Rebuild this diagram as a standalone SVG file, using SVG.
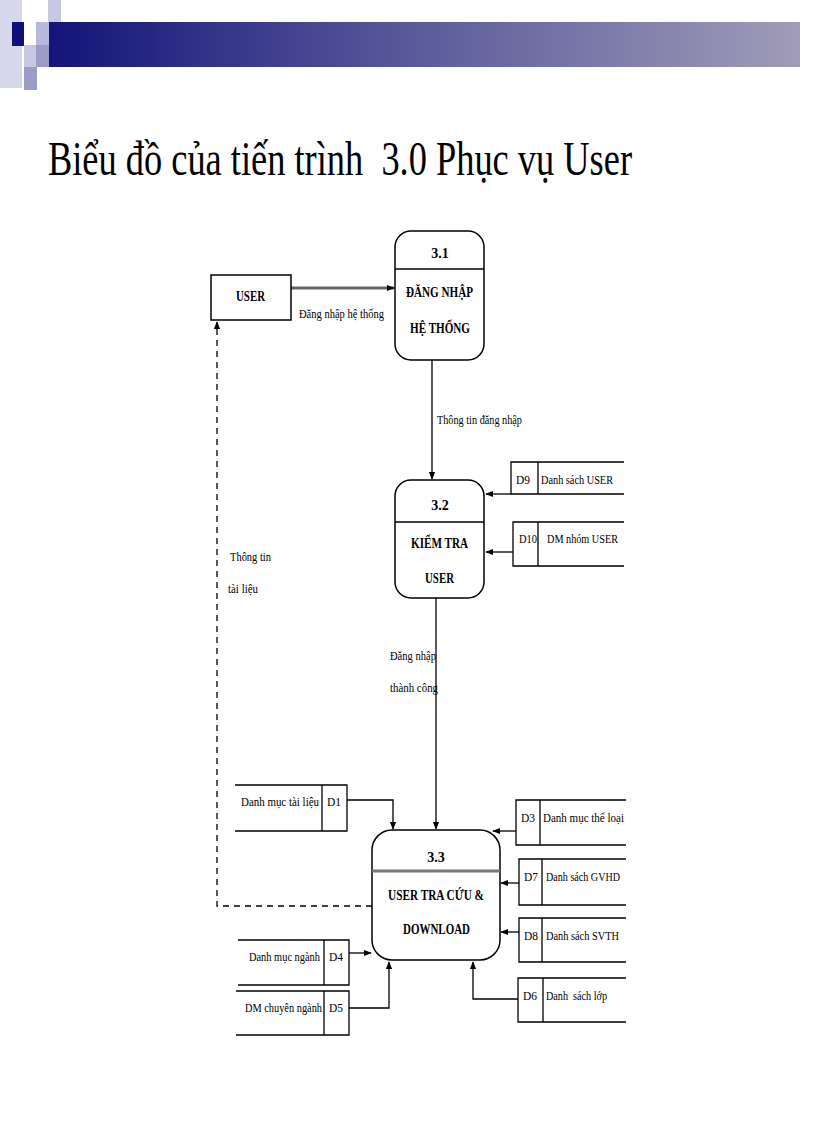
<svg xmlns="http://www.w3.org/2000/svg" width="816" height="1123" viewBox="0 0 816 1123">
<defs>
<linearGradient id="bar" x1="0" x2="1" y1="0" y2="0"><stop offset="0" stop-color="#14147a"/><stop offset="0.5" stop-color="#5c5c9c"/><stop offset="1" stop-color="#a09cb8"/></linearGradient>
<marker id="ah" viewBox="0 0 10 10" refX="9" refY="5" markerWidth="8" markerHeight="8" markerUnits="userSpaceOnUse" orient="auto"><path d="M0,1 L10,5 L0,9 z" fill="#000"/></marker>
</defs>
<style>
.t{font-family:"Liberation Serif",serif;font-size:13px;fill:#000}
.b{font-family:"Liberation Serif",serif;font-size:14px;font-weight:bold;fill:#000}
.box{fill:#fff;stroke:#000;stroke-width:1.5}
.ln{fill:none;stroke:#000;stroke-width:1.3}
.c{fill:none;stroke:#000;stroke-width:1.3}
</style>
<rect width="816" height="1123" fill="#fff"/>
<g id="header">
<rect x="0" y="0" width="22" height="88" fill="#d8d8ec"/>
<rect x="48" y="0" width="13" height="46" fill="#c8c8e4"/>
<rect x="36" y="22" width="25" height="24" fill="#b8b8dc"/>
<rect x="12" y="22" width="12" height="24" fill="#10107a"/>
<rect x="24" y="45" width="13" height="45" fill="#c8c8e4"/>
<rect x="36" y="45" width="13" height="22" fill="#9c9cc8"/>
<rect x="24" y="67" width="13" height="23" fill="#9c9cc8"/>
<rect x="49" y="22" width="751" height="45" fill="url(#bar)"/>
</g>
<text x="48" y="175" font-family="Liberation Serif,serif" font-size="48" textLength="584" lengthAdjust="spacingAndGlyphs" xml:space="preserve">Biểu đồ của tiến trình  3.0 Phục vụ User</text>

<g id="connectors">
<line x1="291" y1="288" x2="394" y2="288" stroke="#666" stroke-width="3" marker-end="url(#ah)"/>
<line class="c" x1="432" y1="360" x2="432" y2="479" marker-end="url(#ah)"/>
<line class="c" x1="511" y1="494" x2="486" y2="494" stroke-width="2" marker-end="url(#ah)"/>
<line class="c" x1="513" y1="552" x2="486" y2="552" stroke-width="2.5" marker-end="url(#ah)"/>
<line class="c" x1="436" y1="598" x2="436" y2="829" marker-end="url(#ah)"/>
<polyline class="c" points="347,800 393,800 393,829" marker-end="url(#ah)"/>
<line class="c" x1="516" y1="831" x2="493" y2="831" marker-end="url(#ah)"/>
<line class="c" x1="519" y1="883" x2="501" y2="883" stroke-width="2" marker-end="url(#ah)"/>
<line class="c" x1="519" y1="932" x2="501" y2="932" stroke-width="2" marker-end="url(#ah)"/>
<polyline class="c" points="518,999 473,999 473,962" marker-end="url(#ah)"/>
<line class="c" x1="349" y1="953" x2="371" y2="953" stroke-width="2" marker-end="url(#ah)"/>
<polyline class="c" points="349,1008 389,1008 389,962" marker-end="url(#ah)"/>
<polyline class="c" points="372,906 217,906 217,322" stroke-dasharray="6,5" marker-end="url(#ah)"/>
<text class="t" x="299" y="318" textLength="85" lengthAdjust="spacingAndGlyphs">Đăng nhập hệ thống</text>
<text class="t" x="437" y="424" textLength="85" lengthAdjust="spacingAndGlyphs">Thông tin đăng nhập</text>
<text class="t" x="390" y="660" textLength="46" lengthAdjust="spacingAndGlyphs">Đăng nhập</text>
<text class="t" x="390" y="692" textLength="48" lengthAdjust="spacingAndGlyphs">thành công</text>
<text class="t" x="230" y="561" textLength="41" lengthAdjust="spacingAndGlyphs">Thông tin</text>
<text class="t" x="228" y="593" textLength="30" lengthAdjust="spacingAndGlyphs">tài liệu</text>
</g>

<g id="user"><rect class="box" x="211" y="275" width="80" height="45"/><text class="b" x="236" y="301" textLength="29" lengthAdjust="spacingAndGlyphs">USER</text></g>

<g id="p31"><rect class="box" x="395" y="231" width="89" height="129" rx="16"/><line class="ln" x1="395" y1="269" x2="484" y2="269"/>
<text class="b" x="440" y="258" text-anchor="middle">3.1</text><text class="b" x="406" y="297" textLength="67" lengthAdjust="spacingAndGlyphs">ĐĂNG NHẬP</text><text class="b" x="410" y="333" textLength="60" lengthAdjust="spacingAndGlyphs">HỆ THỐNG</text></g>

<g id="p32"><rect class="box" x="395" y="480" width="89" height="118" rx="16"/><line class="ln" x1="395" y1="522" x2="484" y2="522"/>
<text class="b" x="440" y="510" text-anchor="middle">3.2</text><text class="b" x="411" y="548" textLength="57" lengthAdjust="spacingAndGlyphs">KIỂM TRA</text><text class="b" x="425" y="583" textLength="29" lengthAdjust="spacingAndGlyphs">USER</text></g>

<g id="p33"><rect class="box" x="372" y="830" width="128" height="130" rx="20"/><line x1="372" y1="871" x2="500" y2="871" stroke="#777" stroke-width="3"/>
<text class="b" x="436" y="862" text-anchor="middle">3.3</text><text class="b" x="388" y="900" textLength="96" lengthAdjust="spacingAndGlyphs">USER TRA CỨU &amp;</text><text class="b" x="403" y="934" textLength="67" lengthAdjust="spacingAndGlyphs">DOWNLOAD</text></g>

<g id="d9"><path class="ln" d="M624,462 H511 V494 H624 M538,462 V494"/><text class="t" x="516" y="484" textLength="14" lengthAdjust="spacingAndGlyphs">D9</text><text class="t" x="541" y="484" textLength="72" lengthAdjust="spacingAndGlyphs">Danh sách USER</text></g>
<g id="d10"><path class="ln" d="M624,522 H513 V566 H624 M538,522 V566"/><text class="t" x="519" y="543" textLength="18" lengthAdjust="spacingAndGlyphs">D10</text><text class="t" x="547" y="543" textLength="71" lengthAdjust="spacingAndGlyphs">DM nhóm USER</text></g>
<g id="d1"><path class="ln" d="M235,785 H347 V831 H235 M322,785 V831"/><text class="t" x="241" y="806" textLength="78" lengthAdjust="spacingAndGlyphs">Danh mục tài liệu</text><text class="t" x="327" y="806" textLength="14" lengthAdjust="spacingAndGlyphs">D1</text></g>
<g id="d3"><path class="ln" d="M626,800 H516 V845 H626 M540,800 V845"/><text class="t" x="521" y="822" textLength="14" lengthAdjust="spacingAndGlyphs">D3</text><text class="t" x="543" y="822" textLength="81" lengthAdjust="spacingAndGlyphs">Danh mục thể loại</text></g>
<g id="d7"><path class="ln" d="M626,859 H519 V905 H626 M542,859 V905"/><text class="t" x="524" y="881" textLength="14" lengthAdjust="spacingAndGlyphs">D7</text><text class="t" x="546" y="881" textLength="74" lengthAdjust="spacingAndGlyphs">Danh sách GVHD</text></g>
<g id="d8"><path class="ln" d="M626,918 H519 V962 H626 M542,918 V962"/><text class="t" x="524" y="940" textLength="14" lengthAdjust="spacingAndGlyphs">D8</text><text class="t" x="546" y="940" textLength="73" lengthAdjust="spacingAndGlyphs">Danh sách SVTH</text></g>
<g id="d6"><path class="ln" d="M626,978 H518 V1022 H626 M543,978 V1022"/><text class="t" x="523" y="1000" textLength="14" lengthAdjust="spacingAndGlyphs">D6</text><text class="t" x="546" y="1000" textLength="61" lengthAdjust="spacingAndGlyphs" xml:space="preserve">Danh  sách lớp</text></g>
<g id="d4"><path class="ln" d="M238,940 H349 V985 H238 M324,940 V985"/><text class="t" x="249" y="961" textLength="71" lengthAdjust="spacingAndGlyphs">Danh mục ngành</text><text class="t" x="329" y="961" textLength="14" lengthAdjust="spacingAndGlyphs">D4</text></g>
<g id="d5"><path class="ln" d="M236,991 H349 V1035 H236 M324,991 V1035"/><text class="t" x="245" y="1012" textLength="77" lengthAdjust="spacingAndGlyphs">DM chuyên ngành</text><text class="t" x="329" y="1012" textLength="14" lengthAdjust="spacingAndGlyphs">D5</text></g>
</svg>
